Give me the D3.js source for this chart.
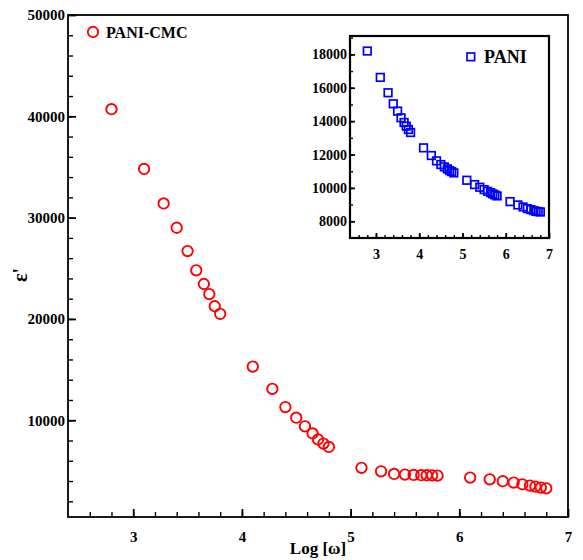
<!DOCTYPE html>
<html>
<head>
<meta charset="utf-8">
<script src="https://cdn.jsdelivr.net/npm/d3@7"></script>
<style>
  body { margin: 0; background: #fff; }
  text { font-family: "Liberation Serif", "Times New Roman", serif !important; font-weight: bold; fill: #000; }
  .domain { display: none; }
  .tick line { stroke: #000; }
</style>
</head>
<body>
<script>
'use strict';

// log of angular frequency
const logW = [2.8, 3.1, 3.28, 3.4, 3.5, 3.58, 3.65, 3.7, 3.75, 3.8,
  4.1, 4.28, 4.4, 4.5, 4.58, 4.65, 4.7, 4.75, 4.8,
  5.1, 5.28, 5.4, 5.5, 5.58, 5.65, 5.7, 5.75, 5.8,
  6.1, 6.28, 6.4, 6.5, 6.58, 6.65, 6.7, 6.75, 6.8];

// PANI-CMC permittivity (main plot)
const epsCMC = [40700, 34800, 31400, 29000, 26700, 24800, 23450, 22450, 21250, 20500,
  15300, 13100, 11300, 10250, 9400, 8700, 8100, 7700, 7370,
  5300, 4960, 4700, 4640, 4600, 4580, 4570, 4560, 4540,
  4340, 4170, 3980, 3850, 3680, 3550, 3450, 3350, 3280];

// PANI permittivity (inset)
const epsPANI = [18200, 16620, 15700, 15040, 14600, 14200, 13920, 13700, 13500, 13320,
  12400, 11940, 11620, 11400, 11260, 11140, 11040, 10980, 10900,
  10460, 10200, 10040, 9900, 9800, 9720, 9640, 9580, 9520,
  9180, 8980, 8860, 8760, 8700, 8640, 8600, 8580, 8560];

const xTicks = [3, 4, 5, 6, 7];
const mainYTicks = [10000, 20000, 30000, 40000, 50000];
const insetYTicks = [8000, 10000, 12000, 14000, 16000, 18000];

const svg = d3.select('body').append('svg')
  .attr('width', 583)
  .attr('height', 560);

// draw one framed panel, return scales
function drawPanel(box, xDom, yDom, yTicks, yMinorStep, frameW, fontSize) {
  let x = d3.scaleLinear().domain(xDom).range([box.left, box.right]);
  let y = d3.scaleLinear().domain(yDom).range([box.bottom, box.top]);

  let xMinor = d3.range(2.6, 7.0001, 0.2).filter(v => v > xDom[0] && v < xDom[1]);
  let yMinor = d3.range(0, yDom[1] + 1, yMinorStep).filter(v => v > yDom[0] && v < yDom[1]);

  // minor ticks, pointing inside
  svg.append('g')
    .attr('transform', 'translate(0,' + box.bottom + ')')
    .call(d3.axisBottom(x).tickValues(xMinor).tickSize(-box.minor).tickFormat(''))
    .selectAll('line').attr('stroke-width', 1.4);
  svg.append('g')
    .attr('transform', 'translate(' + box.left + ',0)')
    .call(d3.axisLeft(y).tickValues(yMinor).tickSize(-box.minor).tickFormat(''))
    .selectAll('line').attr('stroke-width', 1.4);

  // major ticks with labels
  let gx = svg.append('g')
    .attr('transform', 'translate(0,' + box.bottom + ')')
    .call(d3.axisBottom(x).tickValues(xTicks).tickSize(-box.major)
      .tickPadding(box.major + 6).tickFormat(d3.format('d')));
  gx.selectAll('line').attr('stroke-width', 1.8);
  gx.selectAll('text').style('font-size', fontSize + 'px');

  let gy = svg.append('g')
    .attr('transform', 'translate(' + box.left + ',0)')
    .call(d3.axisLeft(y).tickValues(yTicks).tickSize(-box.major)
      .tickPadding(3).tickFormat(d3.format('d')));
  gy.selectAll('line').attr('stroke-width', 1.8);
  gy.selectAll('text').style('font-size', fontSize + 'px');

  svg.append('rect')
    .attr('x', box.left)
    .attr('y', box.top)
    .attr('width', box.right - box.left)
    .attr('height', box.bottom - box.top)
    .attr('fill', 'none')
    .attr('stroke', '#000')
    .attr('stroke-width', frameW);

  return { x: x, y: y };
}

// main plot
let main = drawPanel({ left: 68, right: 568, top: 15, bottom: 517, major: 8, minor: 5 },
  [2.4, 7], [450, 50000], mainYTicks, 2000, 1.8, 15);

svg.selectAll('.cmc')
  .data(logW)
  .enter()
  .append('circle')
    .attr('class', 'cmc')
    .attr('cx', (d) => main.x(d))
    .attr('cy', (d, i) => main.y(epsCMC[i]))
    .attr('r', 5.2)
    .attr('fill', 'none')
    .attr('stroke', '#ff0000')
    .attr('stroke-width', 1.9);

// legend main
svg.append('circle')
  .attr('cx', 93).attr('cy', 32).attr('r', 5.2)
  .attr('fill', 'none').attr('stroke', '#ff0000').attr('stroke-width', 1.9);
svg.append('text')
  .attr('x', 106).attr('y', 38)
  .style('font-size', '16px')
  .text('PANI-CMC');

// axis titles
svg.append('text')
  .attr('x', 318).attr('y', 554)
  .attr('text-anchor', 'middle')
  .style('font-size', '17px')
  .text('Log [ω]');

svg.append('text')
  .attr('transform', 'translate(27, 275)rotate(-90)')
  .attr('text-anchor', 'middle')
  .style('font-size', '20px')
  .text("ε'");

// inset
let inset = drawPanel({ left: 350, right: 549, top: 36, bottom: 238, major: 5, minor: 3 },
  [2.4, 7], [7000, 19100], insetYTicks, 1000, 2.2, 14);

svg.selectAll('.pani')
  .data(logW)
  .enter()
  .append('rect')
    .attr('class', 'pani')
    .attr('x', (d) => inset.x(d) - 3.8)
    .attr('y', (d, i) => inset.y(epsPANI[i]) - 3.8)
    .attr('width', 7.6)
    .attr('height', 7.6)
    .attr('fill', 'none')
    .attr('stroke', '#0000ff')
    .attr('stroke-width', 1.7);

// legend inset
svg.append('rect')
  .attr('x', 467).attr('y', 53).attr('width', 7.6).attr('height', 7.6)
  .attr('fill', 'none').attr('stroke', '#0000ff').attr('stroke-width', 1.7);
svg.append('text')
  .attr('x', 484).attr('y', 63)
  .style('font-size', '18px')
  .text('PANI');
</script>
</body>
</html>
